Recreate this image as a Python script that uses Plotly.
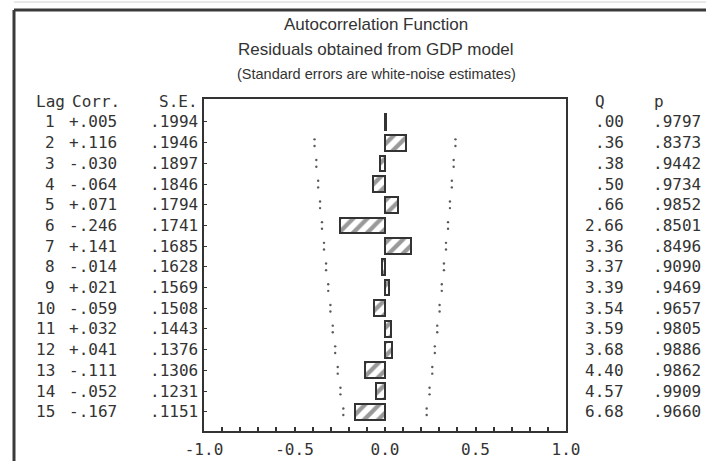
import plotly.graph_objects as go

# Autocorrelation table for the residuals of the GDP model
lags = list(range(1, 16))
corr = [0.005, 0.116, -0.030, -0.064, 0.071, -0.246, 0.141, -0.014,
        0.021, -0.059, 0.032, 0.041, -0.111, -0.052, -0.167]
std_err = [0.1994, 0.1946, 0.1897, 0.1846, 0.1794, 0.1741, 0.1685, 0.1628,
           0.1569, 0.1508, 0.1443, 0.1376, 0.1306, 0.1231, 0.1151]
box_q = [0.00, 0.36, 0.38, 0.50, 0.66, 2.66, 3.36, 3.37,
         3.39, 3.54, 3.59, 3.68, 4.40, 4.57, 6.68]
p_values = [0.9797, 0.8373, 0.9442, 0.9734, 0.9852, 0.8501, 0.8496, 0.9090,
            0.9469, 0.9657, 0.9805, 0.9886, 0.9862, 0.9909, 0.9660]
x_tick_values = [-1.0, -0.5, 0.0, 0.5, 1.0]
x_tick_labels = ["-1.0", "-0.5", "0.0", "0.5", "1.0"]

# page geometry (pixels)
W, H = 706, 461
L, R, T, B = 204, 566, 99, 431
PW, PH = R - L, B - T

MONO = "DejaVu Sans Mono, Liberation Mono, monospace"
NARROW = "Liberation Sans Narrow, Arial Narrow, Liberation Sans, Arial, sans-serif"
INK = "#333333"
MONO_SIZE = 16


def px_x(px):
    return (px - L) / PW


def px_y(py):
    return (B - py) / PH


def strip0(s):
    # 0.123 -> .123 , -0.123 -> -.123
    return s.replace("0.", ".", 1) if ("0." in s[:3]) else s


fig = go.Figure()

# correlation bars
fig.add_trace(go.Bar(
    x=corr, y=lags, orientation="h", width=0.76,
    marker=dict(color="white", line=dict(color=INK, width=2),
                pattern=dict(shape="/", fgcolor=INK, bgcolor="white",
                             size=10, solidity=0.42)),
    hoverinfo="skip", showlegend=False,
))

# two-standard-error limits, drawn as dotted marks from lag 2 on
band_x, band_y = [], []
for lag, s in zip(lags[1:], std_err[1:]):
    for sign in (-1, 1):
        for dy in (-0.16, 0.16):
            band_x.append(sign * 2 * s)
            band_y.append(lag + dy)
fig.add_trace(go.Scatter(
    x=band_x, y=band_y, mode="markers",
    marker=dict(size=2.4, color="#5a5a5a"),
    hoverinfo="skip", showlegend=False,
))

ann = []


def col_text(x_px, y, text, anchor):
    ann.append(dict(x=px_x(x_px), xref="paper", y=y, yref="y", text=text,
                    showarrow=False, xanchor=anchor, yanchor="middle",
                    borderpad=0,
                    font=dict(family=MONO, size=MONO_SIZE, color=INK)))


# column headers on the row just above lag 1
col_text(35, 0, "Lag", "left")
col_text(121, 0, "Corr.", "right")
col_text(199, 0, "S.E.", "right")
col_text(600, 0, "Q", "center")
col_text(659, 0, "p", "center")

for lag, c, s, q, p in zip(lags, corr, std_err, box_q, p_values):
    col_text(56, lag, str(lag), "right")
    col_text(118, lag, strip0(f"{c:+.3f}"), "right")
    col_text(199, lag, strip0(f"{s:.4f}"), "right")
    col_text(625, lag, strip0(f"{q:.2f}"), "right")
    col_text(702, lag, strip0(f"{p:.4f}"), "right")

# titles
titles = [
    ("Autocorrelation Function", 25, 17),
    ("Residuals obtained from GDP model", 50, 17),
    ("(Standard errors are white-noise estimates)", 74, 14.5),
]
for text, py, size in titles:
    ann.append(dict(x=px_x(376), xref="paper", y=px_y(py), yref="paper",
                    text=text, showarrow=False, xanchor="center",
                    yanchor="middle",
                    font=dict(family=NARROW, size=size, color=INK)))

# outer frame of the printout
shapes = [
    dict(type="line", xref="paper", yref="paper", x0=px_x(14), x1=px_x(730),
         y0=px_y(10), y1=px_y(10), line=dict(color="#3a3a3a", width=3)),
    dict(type="line", xref="paper", yref="paper", x0=px_x(14), x1=px_x(14),
         y0=px_y(10), y1=px_y(480), line=dict(color="#3a3a3a", width=3)),
    dict(type="line", xref="paper", yref="paper", x0=px_x(14), x1=px_x(730),
         y0=px_y(2), y1=px_y(2), line=dict(color="#d2d2d2", width=1)),
]

fig.update_layout(
    width=W, height=H, autosize=False,
    margin=dict(l=L, r=W - R, t=T, b=H - B, pad=0, autoexpand=False),
    paper_bgcolor="white", plot_bgcolor="white",
    annotations=ann, shapes=shapes,
    bargap=0, showlegend=False,
    xaxis=dict(range=[-1, 1], tickvals=x_tick_values, ticktext=x_tick_labels,
               ticks="inside", ticklen=4, tickwidth=1.5, tickcolor=INK,
               minor=dict(dtick=0.1, tick0=0, ticks="inside", ticklen=4,
                          tickwidth=1.5, tickcolor=INK),
               showgrid=False, zeroline=False, showline=True, mirror=True,
               linewidth=2, linecolor=INK, ticklabelstandoff=3,
               automargin=False,
               tickfont=dict(family=MONO, size=MONO_SIZE, color=INK)),
    yaxis=dict(range=[15.93, -0.11], tickvals=lags, ticks="inside",
               ticklen=3, tickwidth=1, tickcolor=INK, showticklabels=False,
               showgrid=False, zeroline=False, showline=True, mirror=True,
               linewidth=2, linecolor=INK, automargin=False),
)

fig.write_html("out.html")
